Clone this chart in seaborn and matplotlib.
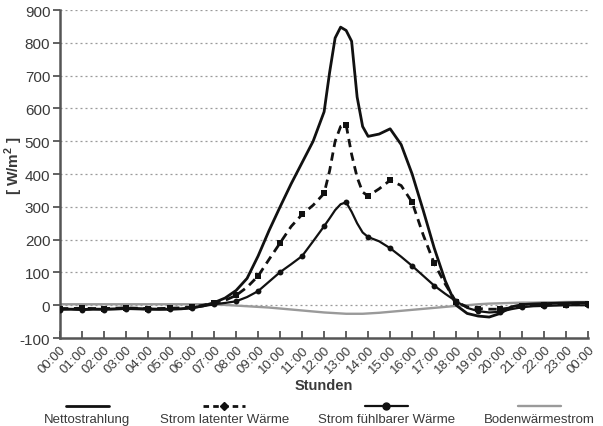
import numpy as np
import pandas as pd
import seaborn as sns
import matplotlib
matplotlib.use("Agg")
import matplotlib.pyplot as plt
from matplotlib.offsetbox import VPacker
from matplotlib.lines import Line2D

# ---- data (W/m^2), readings every half hour (quarter hours around noon) ----
hours = [0, 0.5, 1, 1.5, 2, 2.5, 3, 3.5, 4, 4.5, 5, 5.5, 6, 6.5,
         7, 7.5, 8, 8.5, 9, 9.5, 10, 10.5, 11, 11.5,
         12, 12.25, 12.5, 12.75, 13, 13.25, 13.5, 13.75,
         14, 14.5, 15, 15.5, 16, 16.5, 17, 17.5, 18, 18.5, 19, 19.5,
         20, 20.5, 21, 21.5, 22, 22.5, 23, 23.5, 24]
netto = [-12, -12, -13, -12, -12, -11, -10, -10, -11, -12, -12, -11, -8, -2,
         8, 22, 45, 82, 150, 228, 300, 370, 435, 500,
         590, 710, 815, 848, 838, 805, 635, 545,
         515, 522, 538, 490, 400, 290, 175, 75, 0, -25, -33, -36,
         -25, -5, 2, 4, 5, 6, 7, 8, 8]
latent = [-10, -10, -9, -10, -10, -9, -8, -9, -10, -10, -9, -8, -5, 0,
          8, 15, 30, 55, 89, 140, 190, 240, 277, 305,
          341, 410, 500, 545, 550, 460, 390, 345,
          333, 355, 381, 365, 314, 215, 128, 65, 10, -5, -10, -12,
          -12, -8, -3, 0, 1, 2, 2, 3, 3]
fuehlbar = [-13, -12, -14, -12, -13, -12, -11, -12, -13, -13, -12, -11, -8, -3,
            3, 7, 12, 25, 43, 72, 101, 125, 150, 195,
            241, 265, 290, 308, 314, 285, 250, 222,
            208, 195, 174, 148, 120, 90, 60, 35, 12, -8, -18, -22,
            -20, -12, -6, -3, -2, -1, 0, 0, 0]
boden = [3, 3, 3, 3, 3, 3, 3, 3, 3, 3, 3, 3, 3, 3,
         2, 1, -1, -3, -5, -7, -10, -13, -16, -19,
         -22, -23, -24, -25, -26, -26, -26, -26,
         -25, -23, -20, -17, -14, -11, -8, -5, -2, 0, 3, 5,
         6, 7, 8, 8, 9, 9, 10, 10, 10]
tick_labels = ["00:00", "01:00", "02:00", "03:00", "04:00", "05:00", "06:00",
               "07:00", "08:00", "09:00", "10:00", "11:00", "12:00", "13:00",
               "14:00", "15:00", "16:00", "17:00", "18:00", "19:00", "20:00",
               "21:00", "22:00", "23:00", "00:00"]
series_names = ["Nettostrahlung", "Strom latenter Wärme",
                "Strom fühlbarer Wärme", "Bodenwärmestrom"]

df = pd.DataFrame({"h": hours, "netto": netto, "latent": latent,
                   "fuehlbar": fuehlbar, "boden": boden})
hourly = df[df["h"] % 1 == 0]

sns.set_theme(style="white")
plt.rcParams["font.family"] = ["Liberation Sans", "DejaVu Sans"]
plt.rcParams["mathtext.fontset"] = "custom"
plt.rcParams["mathtext.rm"] = "Liberation Sans"
plt.rcParams["mathtext.bf"] = "Liberation Sans:bold"
txt = "#3a3a3a"

fig = plt.figure(figsize=(6.03, 4.27), dpi=100)
ax = fig.add_axes([0.0995, 0.206, 0.876, 0.768])

# grid
for g in range(0, 1000, 100):
    ax.axhline(g, color="#9a9a9a", lw=0.9, ls=(0, (1.6, 2.4)), zorder=0)

sns.lineplot(data=df, x="h", y="boden", ax=ax, color="#9a9a9a", lw=1.7,
             zorder=2)
sns.lineplot(data=df, x="h", y="netto", ax=ax, color="#111111", lw=2.0,
             zorder=3)
sns.lineplot(data=df, x="h", y="latent", ax=ax, color="#111111", lw=2.0,
             ls=(0, (3, 2)), zorder=4)
sns.lineplot(data=df, x="h", y="fuehlbar", ax=ax, color="#111111", lw=1.6,
             zorder=5)
sns.scatterplot(data=hourly, x="h", y="latent", ax=ax, color="#111111",
                marker="s", s=14, linewidth=0, zorder=6)
sns.scatterplot(data=hourly, x="h", y="fuehlbar", ax=ax, color="#111111",
                marker="o", s=18, linewidth=0, zorder=6)

ax.set_xlim(0, 24)
ax.set_ylim(-100, 900)
ax.set_xticks(range(25))
ax.set_xticklabels(tick_labels, rotation=45, ha="right",
                   rotation_mode="anchor", fontsize=9.5, color=txt)
ax.set_yticks(range(-100, 1000, 100))
ax.set_yticklabels([str(v) for v in range(-100, 1000, 100)], fontsize=11,
                   color=txt)
ax.tick_params(axis="x", direction="in", length=5, width=1.3,
               color="#555555", pad=4, bottom=True)
ax.tick_params(axis="y", direction="out", length=5, width=1.3,
               color="#555555", pad=2, left=True)
for s in ["top", "right"]:
    ax.spines[s].set_visible(False)
for s in ["left", "bottom"]:
    ax.spines[s].set_color("#555555")
    ax.spines[s].set_linewidth(1.8)

ax.set_xlabel("Stunden", fontsize=10.5, fontweight="bold", color=txt,
              labelpad=2)
ax.set_ylabel(r"[ W/m$^\mathbf{2}$ ]", fontsize=11, fontweight="bold",
              color=txt)
ax.yaxis.set_label_coords(-0.066, 0.53)

handles = [
    Line2D([], [], color="#111111", lw=2.0),
    Line2D([], [], color="#111111", lw=2.0, ls=(0, (2, 1.5)), marker="D",
           markersize=4),
    Line2D([], [], color="#111111", lw=1.6, marker="o", markersize=5),
    Line2D([], [], color="#9a9a9a", lw=1.7),
]
leg = fig.legend(handles, series_names, loc="center",
                 bbox_to_anchor=(0.53, 0.03), ncol=4, frameon=False,
                 fontsize=9.5, handlelength=3.2, columnspacing=2.2,
                 labelcolor=txt)
try:
    for col in leg._legend_handle_box.get_children():
        for entry in col.get_children():
            entry.__class__ = VPacker
            entry.align = "center"
            entry.sep = 1
except Exception:
    pass

fig.savefig("out.png", dpi=100)
